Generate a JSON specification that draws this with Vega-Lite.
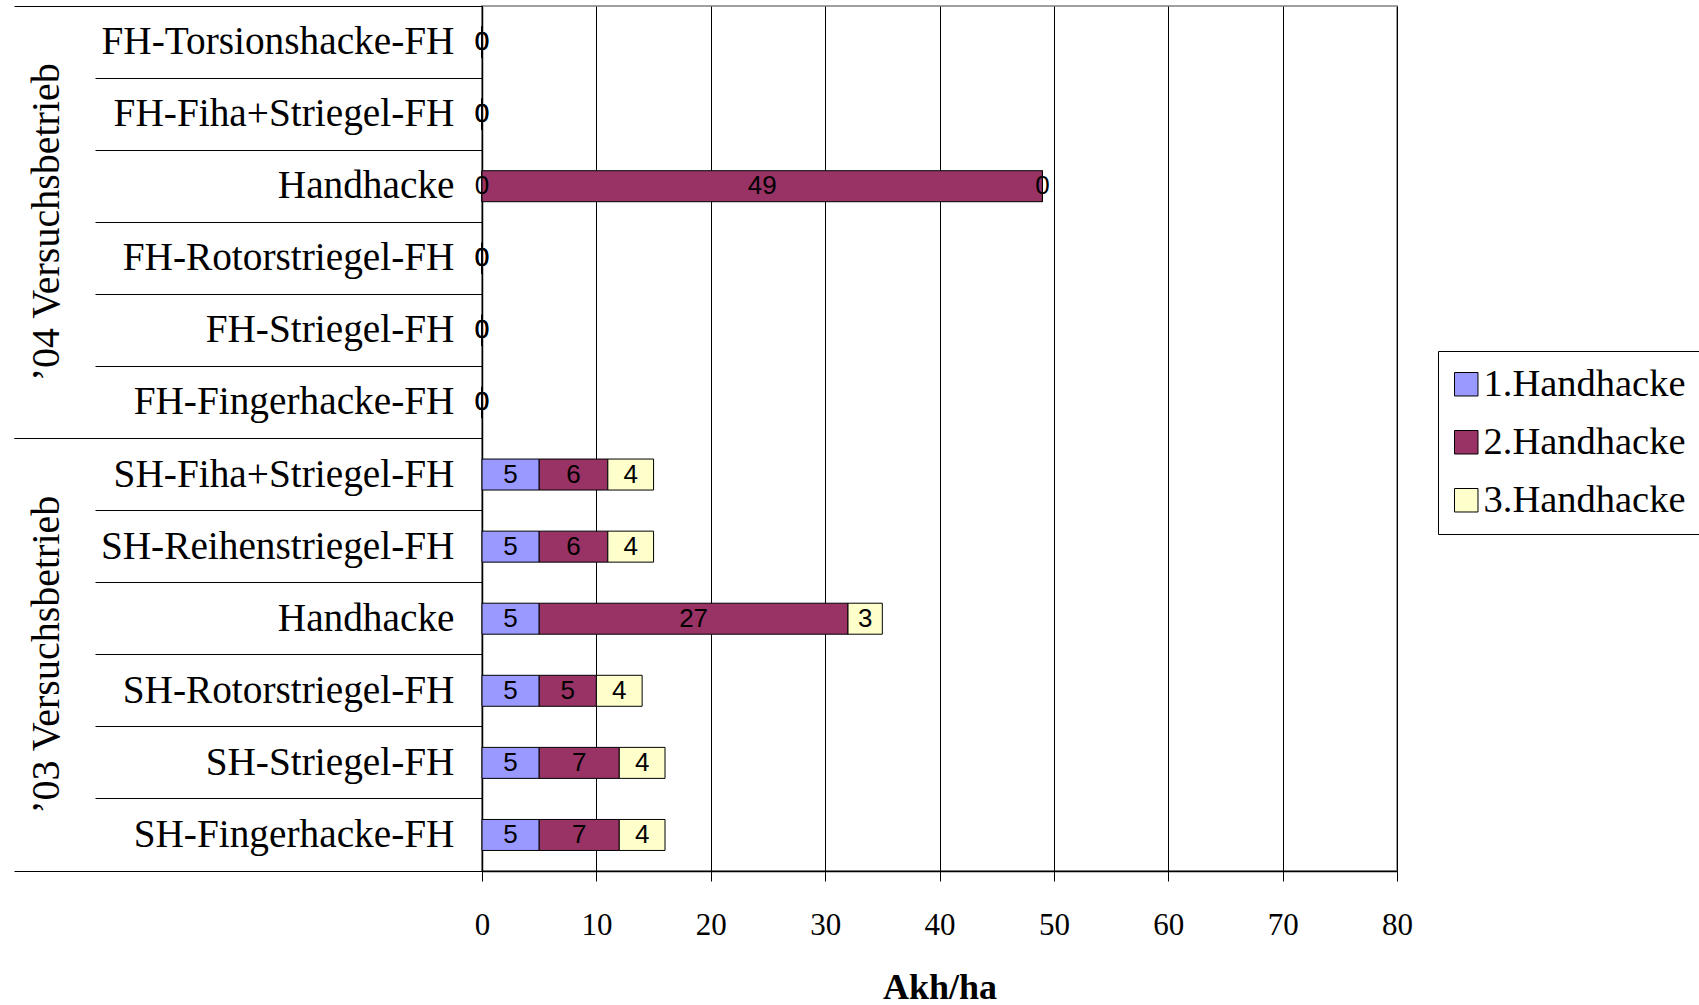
{
  "$schema": "https://vega.github.io/schema/vega-lite/v6.json",
  "width": 915,
  "height": 865,
  "padding": {"left": 13, "top": 5, "right": 0, "bottom": 0},
  "autosize": {"type": "pad"},
  "background": "white",
  "config": {
    "view": {"stroke": "#a0a0a0", "strokeWidth": 2},
    "font": "Liberation Serif"
  },
  "data": {
    "values": [
      {"jahr": "’04 Versuchsbetrieb", "kategorie": "04|FH-Torsionshacke-FH", "gang": "1.Handhacke", "akh": 0},
      {"jahr": "’04 Versuchsbetrieb", "kategorie": "04|FH-Torsionshacke-FH", "gang": "2.Handhacke", "akh": 0},
      {"jahr": "’04 Versuchsbetrieb", "kategorie": "04|FH-Torsionshacke-FH", "gang": "3.Handhacke", "akh": 0},
      {"jahr": "’04 Versuchsbetrieb", "kategorie": "04|FH-Fiha+Striegel-FH", "gang": "1.Handhacke", "akh": 0},
      {"jahr": "’04 Versuchsbetrieb", "kategorie": "04|FH-Fiha+Striegel-FH", "gang": "2.Handhacke", "akh": 0},
      {"jahr": "’04 Versuchsbetrieb", "kategorie": "04|FH-Fiha+Striegel-FH", "gang": "3.Handhacke", "akh": 0},
      {"jahr": "’04 Versuchsbetrieb", "kategorie": "04|Handhacke", "gang": "1.Handhacke", "akh": 0},
      {"jahr": "’04 Versuchsbetrieb", "kategorie": "04|Handhacke", "gang": "2.Handhacke", "akh": 49},
      {"jahr": "’04 Versuchsbetrieb", "kategorie": "04|Handhacke", "gang": "3.Handhacke", "akh": 0},
      {"jahr": "’04 Versuchsbetrieb", "kategorie": "04|FH-Rotorstriegel-FH", "gang": "1.Handhacke", "akh": 0},
      {"jahr": "’04 Versuchsbetrieb", "kategorie": "04|FH-Rotorstriegel-FH", "gang": "2.Handhacke", "akh": 0},
      {"jahr": "’04 Versuchsbetrieb", "kategorie": "04|FH-Rotorstriegel-FH", "gang": "3.Handhacke", "akh": 0},
      {"jahr": "’04 Versuchsbetrieb", "kategorie": "04|FH-Striegel-FH", "gang": "1.Handhacke", "akh": 0},
      {"jahr": "’04 Versuchsbetrieb", "kategorie": "04|FH-Striegel-FH", "gang": "2.Handhacke", "akh": 0},
      {"jahr": "’04 Versuchsbetrieb", "kategorie": "04|FH-Striegel-FH", "gang": "3.Handhacke", "akh": 0},
      {"jahr": "’04 Versuchsbetrieb", "kategorie": "04|FH-Fingerhacke-FH", "gang": "1.Handhacke", "akh": 0},
      {"jahr": "’04 Versuchsbetrieb", "kategorie": "04|FH-Fingerhacke-FH", "gang": "2.Handhacke", "akh": 0},
      {"jahr": "’04 Versuchsbetrieb", "kategorie": "04|FH-Fingerhacke-FH", "gang": "3.Handhacke", "akh": 0},
      {"jahr": "’03 Versuchsbetrieb", "kategorie": "03|SH-Fiha+Striegel-FH", "gang": "1.Handhacke", "akh": 5},
      {"jahr": "’03 Versuchsbetrieb", "kategorie": "03|SH-Fiha+Striegel-FH", "gang": "2.Handhacke", "akh": 6},
      {"jahr": "’03 Versuchsbetrieb", "kategorie": "03|SH-Fiha+Striegel-FH", "gang": "3.Handhacke", "akh": 4},
      {"jahr": "’03 Versuchsbetrieb", "kategorie": "03|SH-Reihenstriegel-FH", "gang": "1.Handhacke", "akh": 5},
      {"jahr": "’03 Versuchsbetrieb", "kategorie": "03|SH-Reihenstriegel-FH", "gang": "2.Handhacke", "akh": 6},
      {"jahr": "’03 Versuchsbetrieb", "kategorie": "03|SH-Reihenstriegel-FH", "gang": "3.Handhacke", "akh": 4},
      {"jahr": "’03 Versuchsbetrieb", "kategorie": "03|Handhacke", "gang": "1.Handhacke", "akh": 5},
      {"jahr": "’03 Versuchsbetrieb", "kategorie": "03|Handhacke", "gang": "2.Handhacke", "akh": 27},
      {"jahr": "’03 Versuchsbetrieb", "kategorie": "03|Handhacke", "gang": "3.Handhacke", "akh": 3},
      {"jahr": "’03 Versuchsbetrieb", "kategorie": "03|SH-Rotorstriegel-FH", "gang": "1.Handhacke", "akh": 5},
      {"jahr": "’03 Versuchsbetrieb", "kategorie": "03|SH-Rotorstriegel-FH", "gang": "2.Handhacke", "akh": 5},
      {"jahr": "’03 Versuchsbetrieb", "kategorie": "03|SH-Rotorstriegel-FH", "gang": "3.Handhacke", "akh": 4},
      {"jahr": "’03 Versuchsbetrieb", "kategorie": "03|SH-Striegel-FH", "gang": "1.Handhacke", "akh": 5},
      {"jahr": "’03 Versuchsbetrieb", "kategorie": "03|SH-Striegel-FH", "gang": "2.Handhacke", "akh": 7},
      {"jahr": "’03 Versuchsbetrieb", "kategorie": "03|SH-Striegel-FH", "gang": "3.Handhacke", "akh": 4},
      {"jahr": "’03 Versuchsbetrieb", "kategorie": "03|SH-Fingerhacke-FH", "gang": "1.Handhacke", "akh": 5},
      {"jahr": "’03 Versuchsbetrieb", "kategorie": "03|SH-Fingerhacke-FH", "gang": "2.Handhacke", "akh": 7},
      {"jahr": "’03 Versuchsbetrieb", "kategorie": "03|SH-Fingerhacke-FH", "gang": "3.Handhacke", "akh": 4}
    ]
  },
  "layer": [
    {
      "mark": {"type": "tick", "opacity": 0},
      "encoding": {
        "y": {
          "field": "jahr",
          "type": "nominal",
          "sort": null,
          "scale": {"paddingInner": 0, "paddingOuter": 0},
          "axis": {
            "orient": "left",
            "title": null,
            "domain": false,
            "bandPosition": 0,
            "tickSize": 468,
            "tickColor": "#000",
            "tickWidth": 1,
            "labelAngle": -90,
            "labelAlign": "center",
            "labelBaseline": "alphabetic",
            "labelPadding": -44,
            "labelFont": "Liberation Serif",
            "labelFontSize": 40,
            "labelColor": "#000",
            "labelLimit": 700
          }
        }
      }
    },
    {
      "mark": {"type": "tick", "opacity": 0},
      "encoding": {
        "y": {
          "field": "jahr",
          "type": "nominal",
          "sort": null,
          "scale": {"paddingInner": 0, "paddingOuter": 0},
          "axis": {
            "orient": "left",
            "title": null,
            "domain": false,
            "labels": false,
            "bandPosition": 1,
            "tickSize": 468,
            "tickColor": "#000",
            "tickWidth": 1
          }
        }
      }
    },
    {
      "encoding": {
        "y": {
          "field": "kategorie",
          "type": "nominal",
          "sort": null,
          "scale": {"paddingInner": 0, "paddingOuter": 0},
          "axis": {
            "orient": "left",
            "title": null,
            "domainColor": "#000",
            "domainWidth": 1.5,
            "bandPosition": 1,
            "tickSize": 387,
            "tickColor": "#000",
            "tickWidth": 1,
            "labelExpr": "substring(datum.value, 3)",
            "labelPadding": -359,
            "labelFont": "Liberation Serif",
            "labelFontSize": 39.3,
            "labelColor": "#000",
            "labelLimit": 600
          }
        },
        "order": {"field": "gang", "type": "nominal", "sort": "ascending"}
      },
      "layer": [
        {
          "mark": {"type": "bar", "height": 31, "stroke": "#000", "strokeWidth": 1},
          "encoding": {
            "x": {
              "field": "akh",
              "type": "quantitative",
              "stack": "zero",
              "scale": {"domain": [0, 80], "nice": false},
              "axis": {
                "values": [0, 10, 20, 30, 40, 50, 60, 70, 80],
                "title": "Akh/ha",
                "grid": true,
                "gridColor": "#000",
                "gridWidth": 1,
                "domainColor": "#000",
                "domainWidth": 1.5,
                "tickColor": "#000",
                "tickSize": 10,
                "labelFlush": false,
                "labelPadding": 29,
                "labelFont": "Liberation Serif",
                "labelFontSize": 31,
                "labelColor": "#000",
                "titleFont": "Liberation Serif",
                "titleFontSize": 36,
                "titleFontWeight": "bold",
                "titleColor": "#000",
                "titlePadding": 30
              }
            },
            "color": {
              "field": "gang",
              "type": "nominal",
              "scale": {
                "domain": ["1.Handhacke", "2.Handhacke", "3.Handhacke"],
                "range": ["#9999FF", "#993366", "#FFFFCC"]
              },
              "legend": {
                "title": null,
                "orient": "none",
                "legendX": 956,
                "legendY": 345,
                "strokeColor": "#000",
                "fillColor": "#fff",
                "padding": 14,
                "symbolType": "square",
                "symbolSize": 552,
                "symbolOffset": -5,
                "symbolStrokeColor": "#000",
                "symbolStrokeWidth": 1,
                "symbolOpacity": 1,
                "labelFont": "Liberation Serif",
                "labelFontSize": 38.5,
                "labelColor": "#000",
                "labelLimit": 400,
                "labelOffset": -2,
                "rowPadding": 19
              }
            }
          }
        },
        {
          "mark": {"type": "text", "font": "Liberation Sans", "fontSize": 26, "color": "#000", "align": "center", "baseline": "middle"},
          "encoding": {
            "x": {"field": "akh", "type": "quantitative", "stack": "zero", "bandPosition": 0.5},
            "detail": {"field": "gang", "type": "nominal"},
            "text": {"field": "akh", "type": "quantitative"}
          }
        }
      ]
    }
  ],
  "resolve": {"scale": {"y": "independent"}, "axis": {"y": "independent"}}
}
